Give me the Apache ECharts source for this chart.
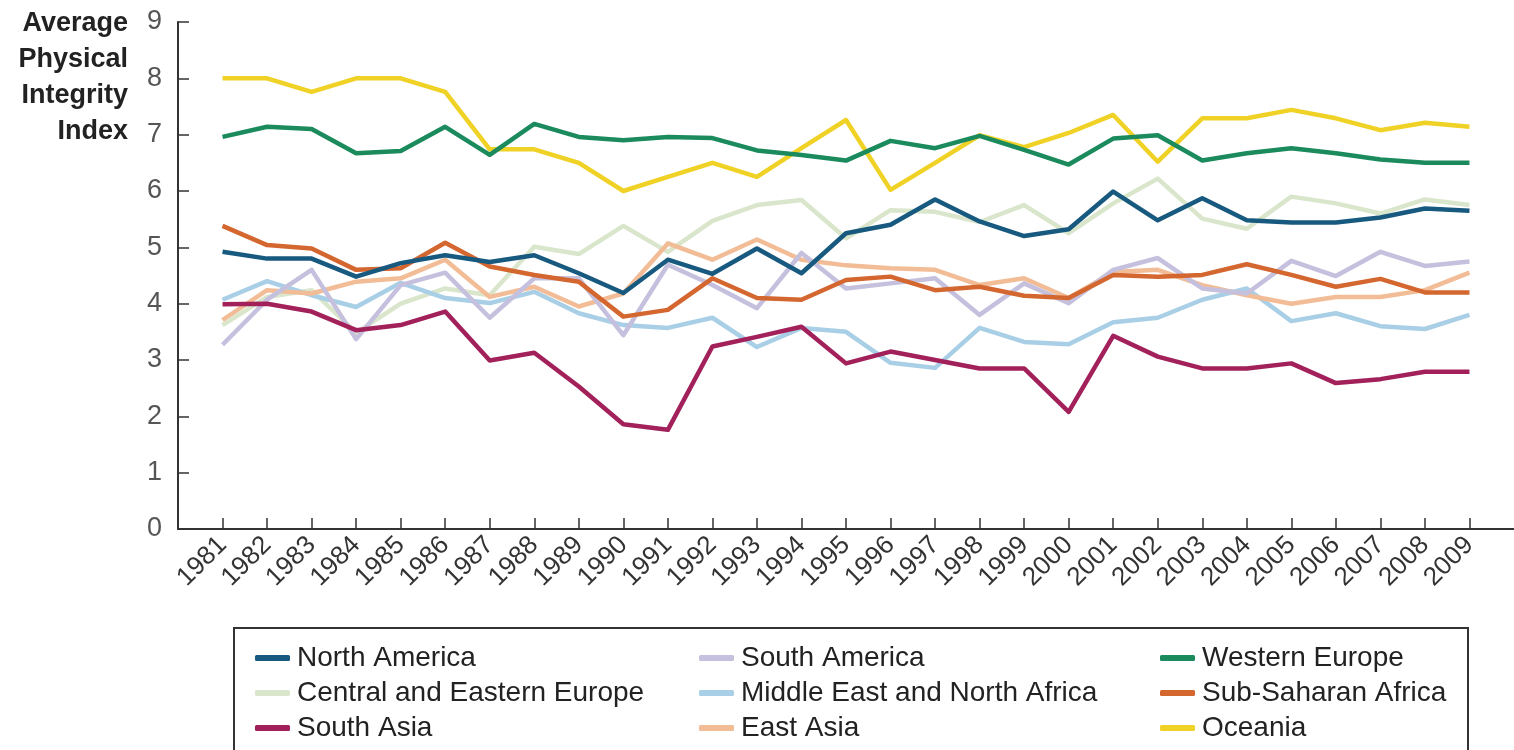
<!DOCTYPE html>
<html>
<head>
<meta charset="utf-8">
<script src="https://cdn.jsdelivr.net/npm/echarts@6/dist/echarts.min.js"></script>
<style>
  html, body { margin: 0; padding: 0; background: #fff; }
  #chart { width: 1514px; height: 750px; }
</style>
</head>
<body>
<div id="chart"></div>
<script>
// years on the x axis
const years = [1981, 1982, 1983, 1984, 1985, 1986, 1987, 1988, 1989, 1990,
  1991, 1992, 1993, 1994, 1995, 1996, 1997, 1998, 1999, 2000,
  2001, 2002, 2003, 2004, 2005, 2006, 2007, 2008, 2009];

const yTicks = [0, 1, 2, 3, 4, 5, 6, 7, 8, 9];

// values, one per year
const northAmerica = [4.92, 4.8, 4.8, 4.48, 4.72, 4.86, 4.74, 4.86, 4.54, 4.19,
  4.78, 4.53, 4.98, 4.54, 5.25, 5.4, 5.85, 5.46, 5.2, 5.32,
  5.99, 5.48, 5.87, 5.48, 5.44, 5.44, 5.53, 5.69, 5.65];
const southAmerica = [3.27, 4.07, 4.6, 3.37, 4.33, 4.55, 3.75, 4.45, 4.45, 3.44,
  4.69, 4.33, 3.92, 4.9, 4.27, 4.36, 4.45, 3.8, 4.36, 4.01,
  4.6, 4.81, 4.27, 4.18, 4.76, 4.49, 4.92, 4.67, 4.75];
const westernEurope = [6.96, 7.14, 7.1, 6.67, 6.71, 7.14, 6.64, 7.19, 6.96, 6.9,
  6.96, 6.94, 6.72, 6.64, 6.54, 6.89, 6.76, 6.98, 6.73, 6.47,
  6.93, 6.99, 6.54, 6.67, 6.76, 6.67, 6.56, 6.5, 6.5];
const centralEastern = [3.62, 4.12, 4.24, 3.48, 4.0, 4.27, 4.15, 5.01, 4.88, 5.38,
  4.92, 5.47, 5.75, 5.84, 5.16, 5.66, 5.63, 5.45, 5.75, 5.25,
  5.78, 6.22, 5.51, 5.33, 5.9, 5.78, 5.6, 5.85, 5.75];
const middleEast = [4.07, 4.4, 4.15, 3.94, 4.37, 4.1, 4.01, 4.21, 3.83, 3.62,
  3.57, 3.75, 3.23, 3.57, 3.5, 2.95, 2.86, 3.57, 3.32, 3.28,
  3.67, 3.75, 4.07, 4.27, 3.69, 3.83, 3.6, 3.55, 3.8];
const subSaharan = [5.38, 5.04, 4.98, 4.6, 4.63, 5.08, 4.66, 4.51, 4.39, 3.77,
  3.89, 4.45, 4.1, 4.07, 4.42, 4.48, 4.24, 4.3, 4.14, 4.1,
  4.51, 4.48, 4.51, 4.7, 4.51, 4.3, 4.44, 4.2, 4.2];
const southAsia = [3.99, 4.0, 3.86, 3.53, 3.62, 3.86, 2.99, 3.13, 2.53, 1.86,
  1.76, 3.24, 3.41, 3.59, 2.94, 3.15, 3.0, 2.85, 2.85, 2.08,
  3.43, 3.06, 2.85, 2.85, 2.94, 2.59, 2.66, 2.79, 2.79];
const eastAsia = [3.71, 4.24, 4.18, 4.39, 4.45, 4.78, 4.12, 4.3, 3.95, 4.18,
  5.07, 4.78, 5.14, 4.78, 4.68, 4.63, 4.6, 4.33, 4.45, 4.1,
  4.56, 4.6, 4.33, 4.15, 4.0, 4.12, 4.12, 4.24, 4.55];
const oceania = [8.0, 8.0, 7.76, 8.0, 8.0, 7.76, 6.74, 6.74, 6.5, 6.0,
  6.25, 6.5, 6.25, 6.76, 7.26, 6.02, 6.5, 6.99, 6.78, 7.03,
  7.35, 6.52, 7.29, 7.29, 7.44, 7.29, 7.08, 7.21, 7.14];

// drawing order: pale lines first, dark ones on top
const regions = [
  { name: 'Central and Eastern Europe', values: centralEastern, color: '#d9e6cb' },
  { name: 'Middle East and North Africa', values: middleEast, color: '#a9cfe6' },
  { name: 'East Asia', values: eastAsia, color: '#f2bd96' },
  { name: 'South America', values: southAmerica, color: '#c5c0dd' },
  { name: 'Sub-Saharan Africa', values: subSaharan, color: '#d4662f' },
  { name: 'South Asia', values: southAsia, color: '#a3215a' },
  { name: 'Oceania', values: oceania, color: '#f0d226' },
  { name: 'Western Europe', values: westernEurope, color: '#1b8a5c' },
  { name: 'North America', values: northAmerica, color: '#17597f' }
];

// legend columns as in the picture
const legendCols = [
  ['North America', 'Central and Eastern Europe', 'South Asia'],
  ['South America', 'Middle East and North Africa', 'East Asia'],
  ['Western Europe', 'Sub-Saharan Africa', 'Oceania']
];
const legendLeft = [255, 699, 1160];

const FONT = '"Liberation Sans", Arial, sans-serif';

const chart = echarts.init(document.getElementById('chart'), null, { renderer: 'canvas' });

const option = {
  animation: false,
  backgroundColor: '#fff',
  grid: { left: 178, top: 22, bottom: 221, right: -12, containLabel: false },
  xAxis: {
    type: 'value',
    min: 1980,
    max: 2010,
    interval: 1,
    axisLine: { show: true, lineStyle: { color: '#333', width: 2 } },
    axisTick: { show: true, inside: true, length: 11, lineStyle: { color: '#333', width: 1.5 } },
    splitLine: { show: false },
    axisLabel: {
      rotate: 45,
      margin: 12,
      color: '#333',
      fontFamily: FONT,
      fontSize: 26,
      showMinLabel: false,
      showMaxLabel: false,
      formatter: v => (years.indexOf(v) >= 0 ? String(v) : '')
    }
  },
  yAxis: {
    type: 'value',
    min: yTicks[0],
    max: yTicks[yTicks.length - 1],
    interval: 1,
    axisLine: { show: true, lineStyle: { color: '#333', width: 2 } },
    axisTick: { show: true, inside: true, length: 11, lineStyle: { color: '#333', width: 1.5 } },
    splitLine: { show: false },
    axisLabel: { margin: 16, color: '#555', fontFamily: FONT, fontSize: 27 }
  },
  legend: legendCols.map((col, i) => ({
    data: col,
    orient: 'vertical',
    left: legendLeft[i],
    top: 644,
    padding: 0,
    icon: 'roundRect',
    itemWidth: 35,
    itemHeight: 6,
    itemGap: 7,
    selectedMode: false,
    textStyle: { fontFamily: FONT, fontSize: 28, color: '#222', lineHeight: 28, padding: [0, 0, 0, 2] }
  })),
  graphic: [
    {
      type: 'text',
      x: 128,
      y: 6,
      style: {
        text: 'Average\nPhysical\nIntegrity\nIndex',
        fontFamily: FONT,
        fontSize: 27,
        fontWeight: 'bold',
        lineHeight: 36,
        fill: '#222',
        align: 'right',
        verticalAlign: 'top'
      }
    },
    {
      type: 'rect',
      shape: { x: 234, y: 628, width: 1234, height: 160 },
      style: { fill: 'none', stroke: '#333', lineWidth: 2 },
      silent: true
    }
  ],
  series: regions.map(r => ({
    name: r.name,
    type: 'line',
    data: years.map((y, i) => [y, r.values[i]]),
    symbol: 'none',
    lineStyle: { color: r.color, width: 4.5, join: 'round' },
    itemStyle: { color: r.color },
    emphasis: { disabled: true }
  }))
};

chart.setOption(option);
</script>
</body>
</html>
